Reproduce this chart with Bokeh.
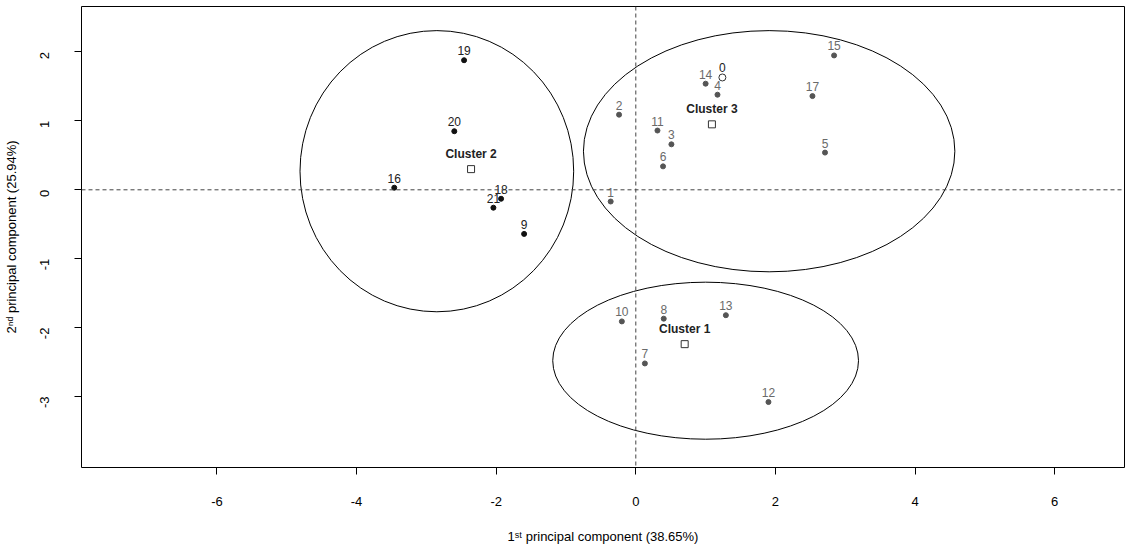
import math
from bokeh.plotting import figure
from bokeh.models import ColumnDataSource, Span
from bokeh.core.properties import value
from bokeh.embed import file_html
from bokeh.resources import INLINE

# sample points
labels = ["19", "20", "16", "18", "21", "9",
          "2", "1", "11", "3", "6", "14", "4", "17", "15", "5",
          "10", "8", "13", "7", "12"]
pc1 = [-2.46, -2.60, -3.46, -1.93, -2.04, -1.60,
       -0.24, -0.36, 0.31, 0.51, 0.39, 1.00, 1.17, 2.53, 2.84, 2.71,
       -0.20, 0.40, 1.29, 0.13, 1.90]
pc2 = [1.88, 0.85, 0.03, -0.13, -0.26, -0.64,
       1.09, -0.17, 0.86, 0.66, 0.34, 1.54, 1.38, 1.36, 1.95, 0.54,
       -1.91, -1.87, -1.82, -2.52, -3.08]
cluster = [2, 2, 2, 2, 2, 2,
           3, 3, 3, 3, 3, 3, 3, 3, 3, 3,
           1, 1, 1, 1, 1]

# new sample "0"
new_x = [1.24]
new_y = [1.63]

# cluster centres and ellipses
cl_names = ["Cluster 1", "Cluster 2", "Cluster 3"]
cl_x = [0.70, -2.36, 1.09]
cl_y = [-2.24, 0.30, 0.95]
ell_x = [1.00, -2.85, 1.91]
ell_y = [-2.48, 0.27, 0.56]
ell_w = [4.38, 3.92, 5.32]
ell_h = [2.28, 4.08, 3.50]

xticks = [-6, -4, -2, 0, 2, 4, 6]
yticks = [-3, -2, -1, 0, 1, 2]

FONT = "Liberation Sans"
p = figure(width=1126, height=546, x_range=(-7.94, 7.0), y_range=(-4.03, 2.66),
           output_backend="svg", toolbar_location=None,
           min_border_left=76, min_border_right=2, min_border_top=6, min_border_bottom=40)
p.grid.visible = False
p.outline_line_color = "black"
p.outline_line_width = 1

p.xaxis.ticker = xticks
p.yaxis.ticker = yticks
p.xaxis.major_label_overrides = {t: str(t) for t in xticks}
p.yaxis.major_label_overrides = {t: str(t) for t in yticks}
p.yaxis.major_label_orientation = math.pi / 2
for ax in (p.xaxis, p.yaxis):
    ax.axis_line_color = None
    ax.minor_tick_line_color = None
    ax.major_tick_in = 0
    ax.major_tick_out = 7
    ax.major_tick_line_color = "black"
    ax.major_label_text_font = FONT
    ax.major_label_text_font_size = "13px"
    ax.major_label_text_color = "black"
    ax.axis_label_text_font = FONT
    ax.axis_label_text_font_size = "13px"
    ax.axis_label_text_font_style = "normal"
    ax.axis_label_text_color = "black"
p.xaxis.major_label_standoff = 22
p.yaxis.major_label_standoff = 30
p.xaxis.axis_label = "1ˢᵗ principal component (38.65%)"
p.yaxis.axis_label = "2ⁿᵈ principal component (25.94%)"
p.xaxis.axis_label_standoff = 20
p.yaxis.axis_label_standoff = 14

for dim in ("width", "height"):
    p.add_layout(Span(location=0, dimension=dim, line_color="#444444",
                      line_dash="4 3", line_width=1))

p.ellipse(x=ell_x, y=ell_y, width=ell_w, height=ell_h,
          fill_color=None, line_color="black", line_width=1)

cols = ["#111111" if c == 2 else "#555555" for c in cluster]
txt = ["#222222" if c == 2 else "#6a6a6a" for c in cluster]
src = ColumnDataSource(dict(x=pc1, y=pc2, label=labels, col=cols, txt=txt))
p.scatter("x", "y", source=src, size=5, fill_color="col", line_color="col")
p.text("x", "y", text="label", source=src, text_color="txt", text_font_size="12px",
       text_font=value(FONT), text_align="center", text_baseline="bottom", y_offset=-5)

p.scatter(new_x, new_y, size=7, fill_color=None, line_color="#333333")
p.text(new_x, new_y, text=["0"], text_color="#222222", text_font_size="12px",
       text_font=value(FONT), text_align="center", text_baseline="bottom", y_offset=-5)

p.scatter(cl_x, cl_y, marker="square", size=7, fill_color="white", line_color="#333333")
p.text(cl_x, cl_y, text=cl_names, text_color="#222222", text_font_size="12px",
       text_font=value(FONT), text_font_style="bold", text_align="center",
       text_baseline="bottom", y_offset=-8)

open("out.html", "w").write(file_html(p, INLINE))
